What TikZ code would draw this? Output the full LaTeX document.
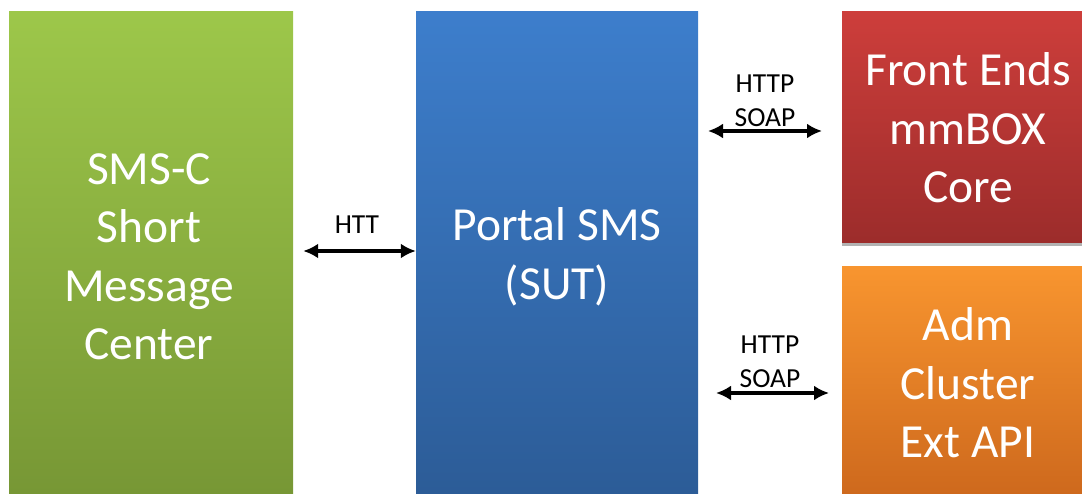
\documentclass[tikz,border=0pt]{standalone}
\usepackage{fontspec}
\setmainfont{Carlito}
\usetikzlibrary{arrows.meta}
\usetikzlibrary{positioning}

\begin{document}
\begin{tikzpicture}[
        x=1pt, y=-1pt,
        block/.style={rectangle, inner sep=0},
        blocktext/.style={inner sep=0, align=center, text=white,
            font=\fontsize{47.5}{58.5}\selectfont},
        proto/.style={align=center, inner sep=0, text=black,
            font=\fontsize{27.5}{34}\selectfont},
        link/.style={{Latex[length=15pt,width=15pt]}-{Latex[length=15pt,width=15pt]}, line width=3.6pt}
    ]
        \useasboundingbox (0,0) rectangle (1082,494);

        % Farben der Bloecke
        \definecolor{smscA}{HTML}{9DC74A}
        \definecolor{smscB}{HTML}{779735}
        \definecolor{sutA}{HTML}{3D7ECC}
        \definecolor{sutB}{HTML}{2C5C97}
        \definecolor{feA}{HTML}{CD3E3B}
        \definecolor{feB}{HTML}{9C2C2B}
        \definecolor{admA}{HTML}{F8952F}
        \definecolor{admB}{HTML}{CE691D}

        % Bloecke
        \node[block, minimum width=284, minimum height=482, top color=smscA, bottom color=smscB]
            (smsc) at (151,253) {};
        \node[block, minimum width=282, minimum height=482, top color=sutA, bottom color=sutB]
            (sut) at (557,253) {};
        \fill[black!30] (842,240) rectangle (1082,246);
        \node[block, minimum width=240, minimum height=231, top color=feA, bottom color=feB]
            (fe) at (962,127.5) {};
        \node[block, minimum width=240, minimum height=227, top color=admA, bottom color=admB]
            (adm) at (962,380.5) {};

        % Texte der Bloecke
        \node[blocktext] (smscTxt) at (149,257) {SMS-C\\Short\\Message\\Center};
        \node[blocktext] (sutTxt) at (557,257) {Portal SMS\\(SUT)};
        \node[blocktext] (feTxt) at (968,128) {Front Ends\\mmBOX\\Core};
        \node[blocktext] (admTxt) at (968,383) {Adm\\Cluster\\Ext API};

        % Verbindungen
        \coordinate (feL) at (708,131);
        \coordinate (feR) at (822,131);
        \coordinate (admL) at (716,393);
        \coordinate (admR) at (829,393);
        \draw[link] ([xshift=10pt]smsc.east |- 0,251) -- (sut.west |- 0,251);
        \draw[link] (feL) -- (feR);
        \draw[link] (admL) -- (admR);

        % Beschriftungen
        \node[proto] (httLbl) at (357,225) {HTT};
        \node[proto, above=4pt of feL, xshift=57pt] (feLbl) {HTTP\\SOAP};
        \node[proto, above=5pt of admL, xshift=54pt] (admLbl) {HTTP\\SOAP};
    \end{tikzpicture}
\end{document}
